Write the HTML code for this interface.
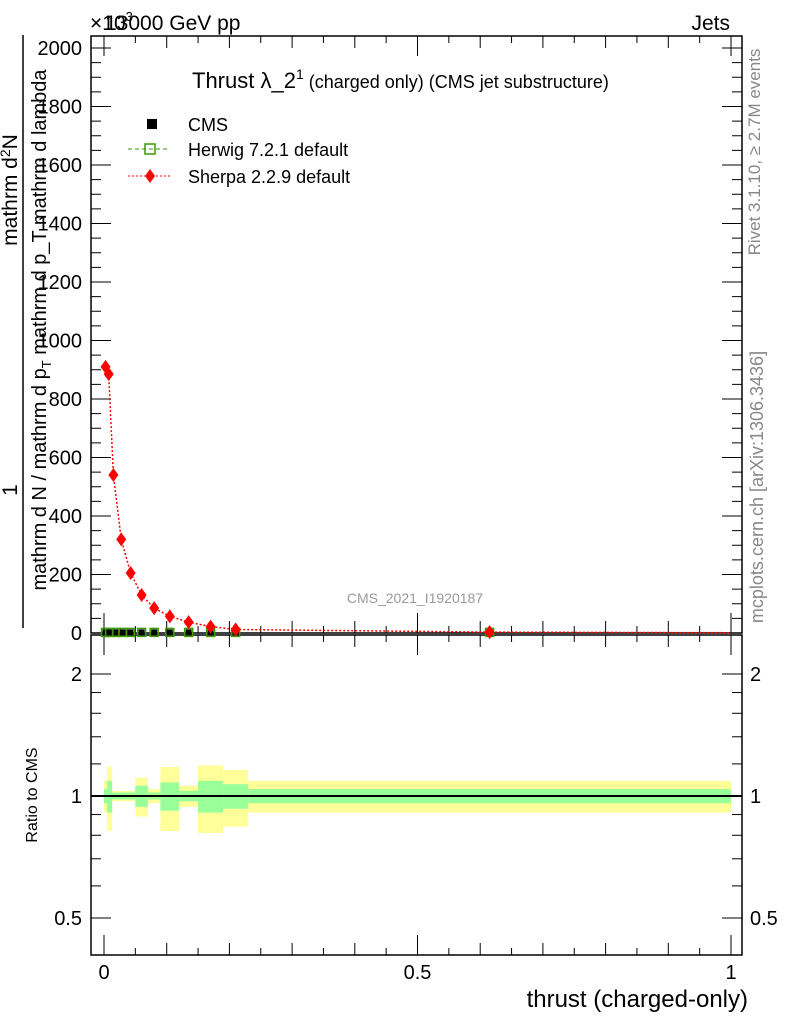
<!DOCTYPE html>
<html><head><meta charset="utf-8"><style>
body{margin:0;background:#fff;}
svg{display:block;font-family:"Liberation Sans",sans-serif;}
</style></head><body>
<svg id="c" width="786" height="1024" xmlns="http://www.w3.org/2000/svg">
<text x="105" y="30" font-size="21">13000 GeV pp</text>
<text x="90" y="30" font-size="21">×10<tspan dy="-9" font-size="13">3</tspan></text>
<text x="730" y="30" font-size="21" text-anchor="end">Jets</text>
<text x="192" y="88" font-size="22">Thrust λ_2<tspan dy="-9" font-size="14">1</tspan><tspan dy="9" font-size="18"> (charged only) (CMS jet substructure)</tspan></text>
<g>
<rect x="147" y="119" width="10" height="10" fill="#000"/>
<text x="188" y="131" font-size="18">CMS</text>
<line x1="128" y1="149" x2="170" y2="149" stroke="#3a9a00" stroke-dasharray="4,3"/>
<rect x="145" y="144" width="10" height="10" fill="none" stroke="#3a9a00" stroke-width="1.5"/>
<text x="188" y="156" font-size="18">Herwig 7.2.1 default</text>
<line x1="128" y1="176" x2="170" y2="176" stroke="#f00" stroke-dasharray="2,2"/>
<path d="M150 169 L155 176 L150 183 L145 176Z" fill="#f00"/>
<text x="188" y="183" font-size="18">Sherpa 2.2.9 default</text>
</g>
<text x="415" y="603" font-size="14" fill="#999" text-anchor="middle">CMS_2021_I1920187</text>
<text transform="translate(760,152) rotate(-90)" font-size="17" fill="#888" text-anchor="middle">Rivet 3.1.10, ≥ 2.7M events</text>
<text transform="translate(763,487) rotate(-90)" font-size="18" fill="#888" text-anchor="middle">mcplots.cern.ch [arXiv:1306.3436]</text>
<g>
<text transform="translate(17,490) rotate(-90)" font-size="21" text-anchor="middle">1</text>
<text transform="translate(17,190) rotate(-90)" font-size="21" text-anchor="middle">mathrm d<tspan dy="-7" font-size="14">2</tspan><tspan dy="7">N</tspan></text>
<line x1="23" y1="35" x2="23" y2="628" stroke="#000" stroke-width="1.5"/>
<text transform="translate(46,330) rotate(-90)" font-size="20" text-anchor="middle">mathrm d N / mathrm d p<tspan dy="5" font-size="13">T</tspan><tspan dy="-5"> mathrm d p_T mathrm d lambda</tspan></text>
</g>
<text transform="translate(37,795) rotate(-90)" font-size="16" text-anchor="middle">Ratio to CMS</text>
<text x="748" y="1007" font-size="24" text-anchor="end">thrust (charged-only)</text>
<g id="g"></g>
</svg>
<script>
const binEdges=[0,0.005,0.013,0.05,0.07,0.09,0.12,0.15,0.19,0.23,1.0];
const cmsX=[0.0025,0.009,0.02,0.03,0.042,0.06,0.08,0.105,0.135,0.17,0.21,0.615];
const cmsValues=[2,2,2,2,2,2,2,2,2,2,2,2];
const herwigValues=[2,2,2,2,2,2,2,2,2,2,2,2];
const yellowErr=[0.09,0.18,0.03,0.11,0.04,0.18,0.06,0.19,0.16,0.09];
const greenErr=[0.04,0.09,0.02,0.06,0.02,0.08,0.03,0.09,0.07,0.04];
const sherpaX=[0.0025,0.0075,0.015,0.0275,0.0425,0.06,0.08,0.105,0.135,0.17,0.21,0.615];
const sherpaY=[910,885,540,320,205,130,85,57,37,22,12,3];
const yTicks=[0,200,400,600,800,1000,1200,1400,1600,1800,2000];
const xTicks=[0,0.5,1];
const xTickLabels=["0","0.5","1"];
const rTicks=[0.5,1,2];
const rTickLabels=["0.5","1","2"];

const L=91,R=742,T=36,B=633,RT=635,RB=955;
const X=v=>104+(v)*(731-104);
const Y=v=>633-v*0.2925;
const RY=r=>796-Math.log2(r)*122;
const g=document.getElementById('g');
const NS='http://www.w3.org/2000/svg';
function mk(t,a){const e=document.createElementNS(NS,t);for(const k in a)e.setAttribute(k,a[k]);g.appendChild(e);return e;}

for(let i=0;i<binEdges.length-1;i++){
 const x1=X(binEdges[i]),x2=X(binEdges[i+1]);
 let e=mk('rect',{x:x1,y:RY(1+yellowErr[i]),width:x2-x1,height:RY(1-yellowErr[i])-RY(1+yellowErr[i]),fill:'#ffff99'});
 
 
 e=mk('rect',{x:x1,y:RY(1+greenErr[i]),width:x2-x1,height:RY(1-greenErr[i])-RY(1+greenErr[i]),fill:'#99ff99'});
 
 
}
let ln=mk('line',{x1:L,y1:RY(1),x2:R,y2:RY(1),stroke:'#000','stroke-width':2});



let f=mk('rect',{x:L,y:T,width:R-L,height:B-T,fill:'none',stroke:'#000','stroke-width':1.5});


f=mk('rect',{x:L,y:RT,width:R-L,height:RB-RT,fill:'none',stroke:'#000','stroke-width':1.5});



for(let v=0;v<=2000;v+=50){const maj=v%200===0;const y=Y(v);
 let t=mk('line',{x1:L,y1:y,x2:L+(maj?20:10),y2:y,stroke:'#000'});
 
 
 t=mk('line',{x1:R,y1:y,x2:R-(maj?20:10),y2:y,stroke:'#000'});
 
 }
yTicks.forEach(v=>{const t=mk('text',{x:82,y:Y(v)+7,'font-size':20,'text-anchor':'end'});t.textContent=v;
 
 });
for(let i=0;i<=20;i++){const v=i*0.05;const x=X(v);const len=i%10===0?20:(i%2===0?12:7);
 [[B,B-len],[T,T+len],[RB,RB-len],[RT,RT+len]].forEach(p=>{const t=mk('line',{x1:x,y1:p[0],x2:x,y2:p[1],stroke:'#000'});
 
 });}
xTicks.forEach((v,i)=>{const t=mk('text',{x:X(v),y:979,'font-size':20,'text-anchor':'middle'});t.textContent=xTickLabels[i];
 
 });
[0.5,0.6,0.7,0.8,0.9,1,1.2,1.4,1.6,1.8,2].forEach(r=>{const maj=rTicks.includes(r);const y=RY(r);
 [[L,L+(maj?20:10)],[R,R-(maj?20:10)]].forEach(p=>{const t=mk('line',{x1:p[0],y1:y,x2:p[1],y2:y,stroke:'#000'});
 
 });});
rTicks.forEach((r,i)=>{let t=mk('text',{x:82,y:RY(r)+7,'font-size':20,'text-anchor':'end'});t.textContent=rTickLabels[i];
 
 
 t=mk('text',{x:750,y:RY(r)+7,'font-size':20});t.textContent=rTickLabels[i];
 
 });

cmsX.forEach((x,i)=>{const cx=X(x);
 let e=mk('rect',{x:cx-4,y:Y(herwigValues[i])-4,width:8,height:8,fill:'none',stroke:'#3a9a00','stroke-width':1.5});
 
 
 e=mk('rect',{x:cx-3,y:Y(cmsValues[i])-3,width:6,height:6,fill:'#000'});
 
 });
let d=sherpaX.map((x,i)=>(i?'L':'M')+X(x)+' '+Y(sherpaY[i])).join(' ')+' L'+X(1)+' '+Y(1);
let p=mk('path',{d:d,fill:'none',stroke:'#f00','stroke-width':1.5,'stroke-dasharray':'2,2'});


sherpaX.forEach((x,i)=>{const cx=X(x),cy=Y(sherpaY[i]);
 const e=mk('path',{d:`M${cx} ${cy-7} L${cx+5} ${cy} L${cx} ${cy+7} L${cx-5} ${cy}Z`,fill:'#f00'});
 
 });
</script>
</body></html>
